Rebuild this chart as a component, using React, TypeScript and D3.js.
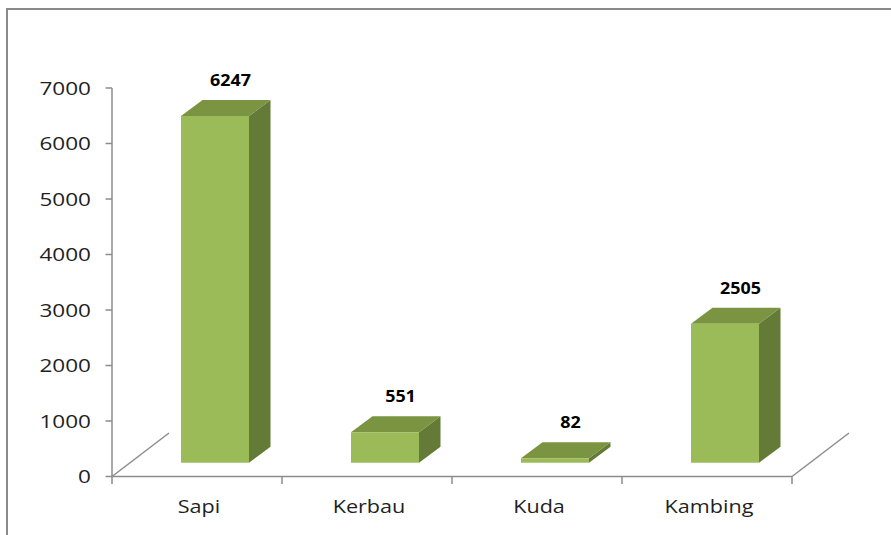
import React from "react";
import * as d3 from "d3";

const categories = ["Sapi", "Kerbau", "Kuda", "Kambing"];
const values = [6247, 551, 82, 2505];
const yTicks = [0, 1000, 2000, 3000, 4000, 5000, 6000, 7000];

const W = 891;
const H = 535;
const FONT = "'Open Sans', 'DejaVu Sans', sans-serif";

const FRONT = "#9BBB59";
const TOP = "#7A9441";
const SIDE = "#647A37";
const AXIS = "#8C8C8C";

export default function App() {
  const x0 = 112, x1 = 792;
  const yBase = 476.5, yTop = 88;
  const y = d3.scaleLinear().domain([0, 7000]).range([yBase, yTop]);
  const x = d3.scaleBand<string>().domain(categories).range([x0, x1]).paddingInner(0.6).paddingOuter(0.3);
  const step = x.step();
  const floorD = { dx: 57, dy: -43.5 };
  const frontOff = { dx: 18, dy: -13.7 };
  const barD = { dx: 21.5, dy: -16 };
  const bw = x.bandwidth();

  const bars = categories.map((c, i) => {
    const v = values[i];
    const fx = (x(c) as number) + frontOff.dx;
    const fb = yBase + frontOff.dy;
    const ft = fb - (yBase - y(v));
    const front = `M${fx},${fb}L${fx + bw},${fb}L${fx + bw},${ft}L${fx},${ft}Z`;
    const top = `M${fx},${ft}L${fx + barD.dx},${ft + barD.dy}L${fx + bw + barD.dx},${ft + barD.dy}L${fx + bw},${ft}Z`;
    const side = `M${fx + bw},${fb}L${fx + bw + barD.dx},${fb + barD.dy}L${fx + bw + barD.dx},${ft + barD.dy}L${fx + bw},${ft}Z`;
    return { c, v, fx, ft, front, top, side };
  });

  const boundaries = d3.range(categories.length + 1).map((i) => x0 + i * step);

  return (
    <svg width={W} height={H} style={{ position: "absolute", left: 0, top: 0, background: "#fff" }}>
      <rect x={7} y={9} width={900} height={540} fill="#fff" stroke="#8a8a8a" strokeWidth={2} />
      {/* floor lines */}
      <line x1={x0} y1={yBase} x2={x0 + floorD.dx} y2={yBase + floorD.dy} stroke={AXIS} strokeWidth={1.5} />
      <line x1={x1} y1={yBase} x2={x1 + floorD.dx} y2={yBase + floorD.dy} stroke={AXIS} strokeWidth={1.5} />
      <line x1={x0} y1={yBase} x2={x1} y2={yBase} stroke={AXIS} strokeWidth={1.5} />
      {boundaries.map((bx, i) => (
        <line key={i} x1={bx} y1={yBase} x2={bx} y2={yBase + 7.5} stroke={AXIS} strokeWidth={1.5} />
      ))}
      {/* y axis */}
      <line x1={x0} y1={yTop} x2={x0} y2={yBase} stroke={AXIS} strokeWidth={1.5} />
      {yTicks.map((t) => (
        <g key={t}>
          <line x1={x0 - 6.5} y1={y(t)} x2={x0} y2={y(t)} stroke={AXIS} strokeWidth={1.5} />
          <g transform={`translate(${91},${y(t) + 6.8}) scale(1.22,1)`}>
            <text textAnchor="end" fontFamily={FONT} fontSize={18.5} fill="#1f1f1f">{t}</text>
          </g>
        </g>
      ))}
      {/* bars */}
      {bars.map((b) => (
        <g key={b.c}>
          <path d={b.side} fill={SIDE} />
          <path d={b.top} fill={TOP} />
          <path d={b.front} fill={FRONT} />
          <g transform={`translate(${b.fx + bw / 2 + 15.5},${b.ft + barD.dy - 14}) scale(1.12,1)`}>
            <text textAnchor="middle" fontFamily={FONT} fontWeight="bold" fontSize={16} fill="#000">{b.v}</text>
          </g>
        </g>
      ))}
      {/* category labels */}
      {categories.map((c) => (
        <g key={c} transform={`translate(${(x(c) as number) + bw / 2 + 2},${512.5}) scale(1.2,1)`}>
          <text textAnchor="middle" fontFamily={FONT} fontSize={18} fill="#1f1f1f">{c}</text>
        </g>
      ))}
    </svg>
  );
}
